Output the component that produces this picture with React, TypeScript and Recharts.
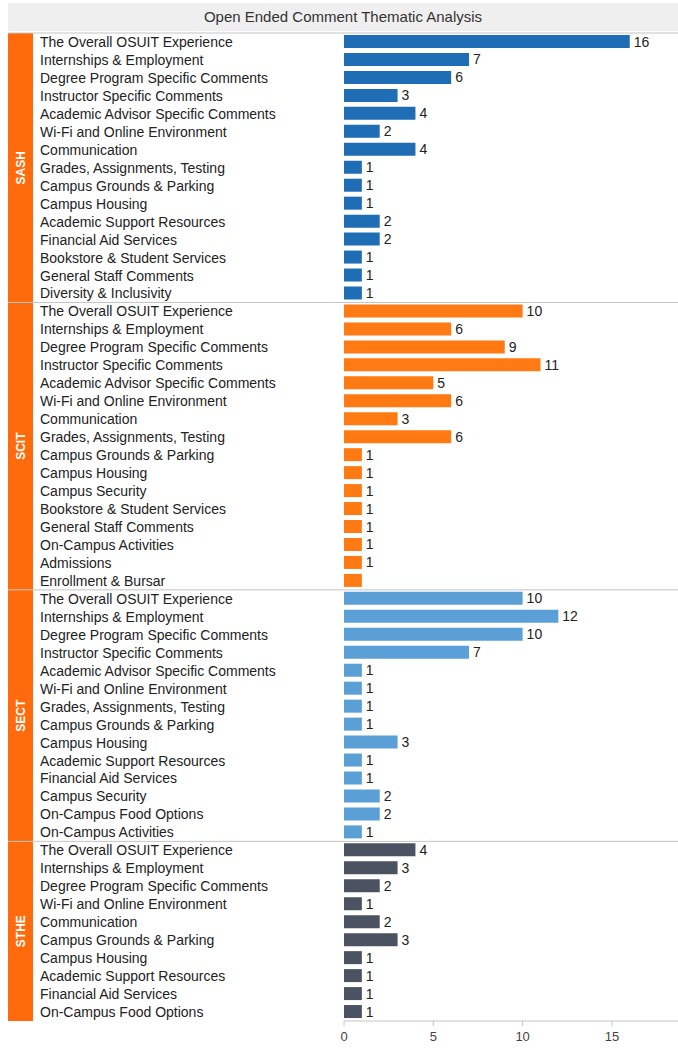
import { BarChart, Bar, XAxis, YAxis, Cell, LabelList } from "recharts";

const groups = ["SASH", "SCIT", "SECT", "STHE"];
const groupColors = ["#1f6eb5", "#ff7a12", "#5a9fd6", "#4b5362"];

const sashTopics = [
  "The Overall OSUIT Experience",
  "Internships & Employment",
  "Degree Program Specific Comments",
  "Instructor Specific Comments",
  "Academic Advisor Specific Comments",
  "Wi-Fi and Online Environment",
  "Communication",
  "Grades, Assignments, Testing",
  "Campus Grounds & Parking",
  "Campus Housing",
  "Academic Support Resources",
  "Financial Aid Services",
  "Bookstore & Student Services",
  "General Staff Comments",
  "Diversity & Inclusivity",
];
const sashValues = [16, 7, 6, 3, 4, 2, 4, 1, 1, 1, 2, 2, 1, 1, 1];

const scitTopics = [
  "The Overall OSUIT Experience",
  "Internships & Employment",
  "Degree Program Specific Comments",
  "Instructor Specific Comments",
  "Academic Advisor Specific Comments",
  "Wi-Fi and Online Environment",
  "Communication",
  "Grades, Assignments, Testing",
  "Campus Grounds & Parking",
  "Campus Housing",
  "Campus Security",
  "Bookstore & Student Services",
  "General Staff Comments",
  "On-Campus Activities",
  "Admissions",
  "Enrollment & Bursar",
];
const scitValues = [10, 6, 9, 11, 5, 6, 3, 6, 1, 1, 1, 1, 1, 1, 1, 1];

const sectTopics = [
  "The Overall OSUIT Experience",
  "Internships & Employment",
  "Degree Program Specific Comments",
  "Instructor Specific Comments",
  "Academic Advisor Specific Comments",
  "Wi-Fi and Online Environment",
  "Grades, Assignments, Testing",
  "Campus Grounds & Parking",
  "Campus Housing",
  "Academic Support Resources",
  "Financial Aid Services",
  "Campus Security",
  "On-Campus Food Options",
  "On-Campus Activities",
];
const sectValues = [10, 12, 10, 7, 1, 1, 1, 1, 3, 1, 1, 2, 2, 1];

const stheTopics = [
  "The Overall OSUIT Experience",
  "Internships & Employment",
  "Degree Program Specific Comments",
  "Wi-Fi and Online Environment",
  "Communication",
  "Campus Grounds & Parking",
  "Campus Housing",
  "Academic Support Resources",
  "Financial Aid Services",
  "On-Campus Food Options",
];
const stheValues = [4, 3, 2, 1, 2, 3, 1, 1, 1, 1];

// the original dashboard shows no number next to this one bar
const unlabeled = ["SCIT-15"];

const xTicks = [0, 5, 10, 15];

const topicLists = [sashTopics, scitTopics, sectTopics, stheTopics];
const valueLists = [sashValues, scitValues, sectValues, stheValues];

const rows = topicLists.flatMap((topics, g) =>
  topics.map((topic, i) => ({
    id: `${groups[g]}-${i}`,
    topic,
    group: g,
    first: i === 0,
    size: topics.length,
    count: valueLists[g][i],
  }))
);

const W = 678;
const H = 1048;
const TOP = 33;
const AXIS_H = 27;
const AXIS_W = 344;
const rowH = (H - TOP - AXIS_H) / rows.length;
const font = "'Liberation Sans', Arial, sans-serif";

const TopicTick = (props: any) => {
  const { y, payload } = props;
  const row = rows[payload.index];
  if (!row) return null;
  const top = y - rowH / 2;
  const mid = top + (rowH * row.size) / 2;
  return (
    <g>
      {row.first && (
        <g>
          <rect x={8} y={top} width={25} height={rowH * row.size} fill="#ff6a0c" />
          <text
            x={21}
            y={mid}
            transform={`rotate(-90 21 ${mid})`}
            textAnchor="middle"
            dominantBaseline="central"
            fill="#ffffff"
            fontSize={12}
            fontWeight="bold"
            fontFamily={font}
          >
            {groups[row.group]}
          </text>
          <line x1={8} x2={W} y1={top} y2={top} stroke="#c4c4c4" strokeWidth={1} />
        </g>
      )}
      <text x={40} y={y} dominantBaseline="central" fontSize={14} fill="#222" fontFamily={font}>
        {row.topic}
      </text>
    </g>
  );
};

const ValueLabel = (props: any) => {
  const { x, y, width, height, value, index } = props;
  const row = rows[index];
  if (!row || unlabeled.includes(row.id)) return null;
  return (
    <text
      x={x + width + 4}
      y={y + height / 2}
      dominantBaseline="central"
      fill="#222"
      fontSize={14}
      fontFamily={font}
    >
      {value}
    </text>
  );
};

export default function App() {
  return (
    <div style={{ position: "absolute", left: 0, top: 0, width: W, height: H, background: "#fff" }}>
      <div
        style={{
          position: "absolute",
          left: 8,
          top: 3,
          width: W - 8,
          height: 28,
          background: "#efefef",
          textAlign: "center",
          lineHeight: "28px",
          fontFamily: font,
          fontSize: 15,
          color: "#333",
        }}
      >
        Open Ended Comment Thematic Analysis
      </div>
      <div style={{ position: "absolute", left: 0, top: 0 }}>
        <BarChart
          width={W}
          height={H}
          data={rows}
          layout="vertical"
          margin={{ top: TOP, right: 0, bottom: 0, left: 0 }}
          barSize={13}
        >
          <XAxis
            type="number"
            domain={[0, 18.7]}
            ticks={xTicks}
            allowDataOverflow
            axisLine={{ stroke: "#c4c4c4" }}
            tickLine={{ stroke: "#c4c4c4" }}
            tickSize={5}
            tickMargin={6}
            tick={{ fill: "#444", fontSize: 13, fontFamily: font }}
            height={AXIS_H}
          />
          <YAxis
            type="category"
            dataKey="id"
            width={AXIS_W}
            axisLine={false}
            tickLine={false}
            interval={0}
            tick={<TopicTick />}
          />
          <Bar dataKey="count" isAnimationActive={false}>
            {rows.map((r) => (
              <Cell key={r.id} fill={groupColors[r.group]} />
            ))}
            <LabelList dataKey="count" content={<ValueLabel />} />
          </Bar>
        </BarChart>
      </div>
    </div>
  );
}
